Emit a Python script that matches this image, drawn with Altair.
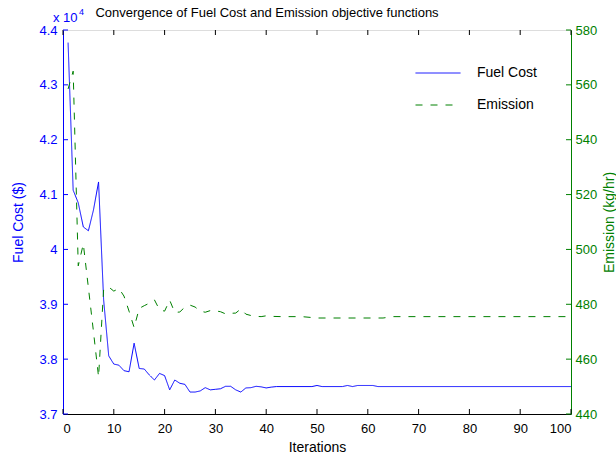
import altair as alt
import pandas as pd

TITLE = "Convergence of Fuel Cost and Emission objective functions"
SERIES = ["Fuel Cost", "Emission"]

# Fuel cost ($) per iteration (flat stretches given by their end points)
fuel_iter = [1, 2, 3, 4, 5, 6, 7, 8, 9, 10, 11, 12, 13, 14, 15, 16, 17, 18, 19, 20,
             21, 22, 23, 24, 25, 26, 27, 28, 29, 30, 31, 32, 33, 34, 35, 36, 37, 38, 39, 40,
             41, 42, 49, 50, 51, 55, 56, 57, 58, 61, 62, 100]
fuel_cost = [43770, 41080, 40850, 40410, 40340, 40720, 41230, 39080, 38060, 37910,
             37890, 37790, 37770, 38290, 37830, 37820, 37710, 37620, 37740, 37700,
             37440, 37620, 37560, 37540, 37400, 37400, 37420, 37480, 37440, 37450,
             37460, 37505, 37505, 37440, 37400, 37475, 37480, 37505, 37495, 37475,
             37490, 37500, 37500, 37520, 37500, 37500, 37520, 37500, 37520, 37520,
             37500, 37500]

# Emission (kg/hr) per iteration
em_iter = [1, 2, 3, 4, 5, 6, 7, 8, 9, 10, 11, 12, 13, 14, 15, 16, 17, 18, 19, 20,
           21, 22, 23, 24, 25, 26, 27, 28, 29, 30, 31, 32, 33, 34, 35, 36, 37, 38, 39, 40,
           41, 43, 47, 50, 63, 65, 100]
emission = [558.5, 565.0, 494.0, 502.0, 486.0, 470.0, 453.5, 485.5, 486.3, 484.8,
            485.8, 483.0, 477.5, 471.5, 478.5, 479.5, 480.4, 481.6, 478.0, 477.5,
            481.5, 477.0, 477.2, 479.0, 479.7, 479.0, 477.5, 477.1, 477.7, 477.6,
            477.3, 476.5, 476.7, 476.8, 478.3, 476.4, 475.9, 475.6, 475.5, 475.8,
            475.6, 475.5, 475.5, 475.0, 475.0, 475.5, 475.5]

x_ticks = [0, 10, 20, 30, 40, 50, 60, 70, 80, 90, 100]
fuel_ticks = [37000, 38000, 39000, 40000, 41000, 42000, 43000, 44000]
em_ticks = [440, 460, 480, 500, 520, 540, 560, 580]

W, H = 508, 384
FONT = "Liberation Sans"
BLUE = "#0000ff"
GREEN = "#008000"
TL = 5  # inward tick length

fuel_df = pd.DataFrame({"iter": fuel_iter, "fuel": fuel_cost, "series": SERIES[0]})
em_df = pd.DataFrame({"iter": em_iter, "emission": emission, "series": SERIES[1]})
xt_df = pd.DataFrame({"iter": x_ticks})
ft_df = pd.DataFrame({"fuel": fuel_ticks})
et_df = pd.DataFrame({"emission": em_ticks})

xscale = alt.Scale(domain=[0, 100], nice=False, zero=False)
fscale = alt.Scale(domain=[37000, 44000], nice=False, zero=False)
escale = alt.Scale(domain=[440, 580], nice=False, zero=False)

xaxis = alt.Axis(values=x_ticks, title="Iterations", ticks=False, tickSize=0,
                 labelPadding=8, titlePadding=5, grid=False, domainColor="black",
                 labelColor="black", titleColor="black", labelFont=FONT, titleFont=FONT,
                 labelFontSize=13, titleFontSize=14, titleFontWeight="normal")
X = alt.X("iter:Q", scale=xscale, axis=xaxis)

legend = alt.Legend(title=None, orient="none", legendX=352, legendY=33,
                    symbolType="stroke", symbolSize=2025, symbolStrokeWidth=1,
                    clipHeight=20, rowPadding=12, labelOffset=16, padding=0,
                    labelFont=FONT, labelFontSize=14, labelColor="black")
color = alt.Color("series:N", scale=alt.Scale(domain=SERIES, range=[BLUE, GREEN]),
                  legend=legend)
dash = alt.StrokeDash("series:N", scale=alt.Scale(domain=SERIES, range=[[1, 0], [7, 8]]),
                      legend=legend)

fuel_line = alt.Chart(fuel_df).mark_line(strokeWidth=1).encode(
    x=X,
    y=alt.Y("fuel:Q", scale=fscale,
            axis=alt.Axis(orient="left", values=fuel_ticks, labelExpr="datum.value / 10000",
                          title="Fuel Cost ($)", ticks=False, tickSize=0, grid=False,
                          labelPadding=6, titlePadding=13, domainColor=BLUE,
                          labelColor=BLUE, titleColor=BLUE, labelFont=FONT,
                          titleFont=FONT, labelFontSize=13, titleFontSize=14,
                          titleFontWeight="normal")),
    color=color, strokeDash=dash,
)

em_line = alt.Chart(em_df).mark_line(strokeWidth=1).encode(
    x=X,
    y=alt.Y("emission:Q", scale=escale,
            axis=alt.Axis(orient="right", values=em_ticks, title="Emission (kg/hr)",
                          ticks=False, tickSize=0, grid=False, labelPadding=4,
                          titlePadding=6, titleAngle=270, titleBaseline="top",
                          domainColor=GREEN, labelColor=GREEN, titleColor=GREEN,
                          labelFont=FONT, titleFont=FONT, labelFontSize=13,
                          titleFontSize=14, titleFontWeight="normal")),
    color=color, strokeDash=dash,
)

xt_bottom = alt.Chart(xt_df).mark_rule(color="black", strokeWidth=1).encode(
    x=X, y=alt.value(H - TL), y2=alt.value(H))
xt_top = alt.Chart(xt_df).mark_rule(color="black", strokeWidth=1).encode(
    x=X, y=alt.value(0), y2=alt.value(TL))
ft = alt.Chart(ft_df).mark_rule(color=BLUE, strokeWidth=1).encode(
    y=alt.Y("fuel:Q", scale=fscale, axis=None), x=alt.value(0), x2=alt.value(TL))
et = alt.Chart(et_df).mark_rule(color=GREEN, strokeWidth=1).encode(
    y=alt.Y("emission:Q", scale=escale, axis=None), x=alt.value(W - TL), x2=alt.value(W))

title_txt = alt.Chart(pd.DataFrame({"t": [TITLE]})).mark_text(
    font=FONT, fontSize=13, color="black", align="center", baseline="middle").encode(
    text="t:N", x=alt.value(204), y=alt.value(-17))
mult_txt = alt.Chart(pd.DataFrame({"t": ["x 10"]})).mark_text(
    font=FONT, fontSize=13, color=BLUE, align="left", baseline="middle").encode(
    text="t:N", x=alt.value(-10), y=alt.value(-12))
exp_txt = alt.Chart(pd.DataFrame({"t": ["4"]})).mark_text(
    font=FONT, fontSize=9, color=BLUE, align="left", baseline="middle").encode(
    text="t:N", x=alt.value(16), y=alt.value(-18))

chart = alt.layer(
    fuel_line, em_line, xt_bottom, xt_top, ft, et, title_txt, mult_txt, exp_txt
).resolve_scale(y="independent").properties(
    width=W, height=H,
    autosize=alt.AutoSizeParams(type="none"),
    padding={"left": 63, "top": 30, "right": 616 - 63 - W, "bottom": 457 - 30 - H},
).configure_view(stroke="black", strokeWidth=1).configure(background="white")

chart.save("out.html", embed_options={"renderer": "svg", "actions": False})
